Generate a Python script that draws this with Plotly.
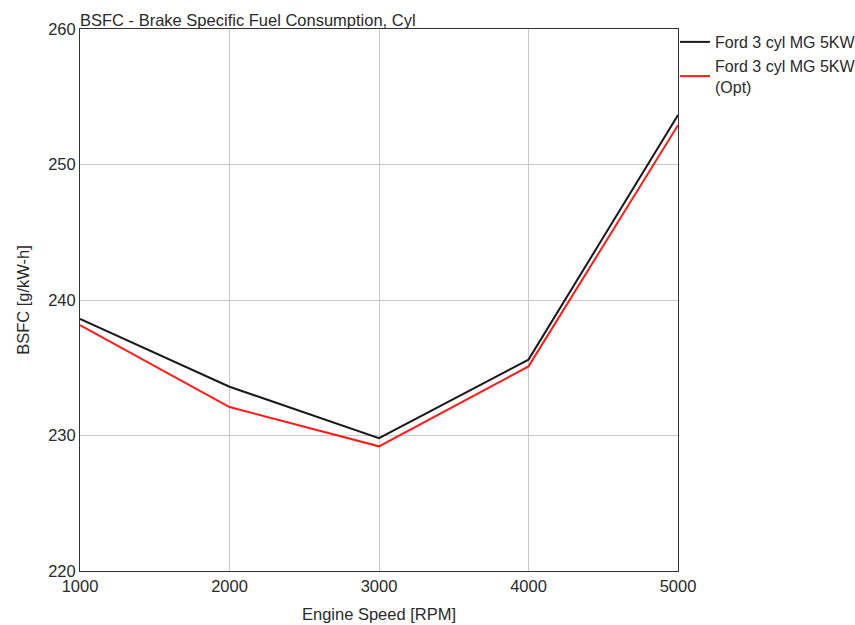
import plotly.graph_objects as go

rpm = [1000, 2000, 3000, 4000, 5000]
bsfc_base = [238.6, 233.6, 229.8, 235.6, 253.65]
bsfc_opt = [238.15, 232.1, 229.2, 235.1, 252.9]
series_names = ["Ford 3 cyl MG 5KW", "Ford 3 cyl MG 5KW<br>(Opt)"]

fig = go.Figure()
fig.add_trace(go.Scatter(x=rpm, y=bsfc_base, mode="lines", name=series_names[0],
                         line=dict(color="#1a1a1a", width=2)))
fig.add_trace(go.Scatter(x=rpm, y=bsfc_opt, mode="lines", name=series_names[1],
                         line=dict(color="#ff1a1a", width=2)))

font = "Liberation Sans, Arial, sans-serif"
L, R, T, B = 80, 177, 29, 54
pw = 855 - L - R
ph = 625 - T - B
fig.update_layout(
    width=855, height=625,
    margin=dict(l=L, r=R, t=T, b=B, autoexpand=False),
    paper_bgcolor="white", plot_bgcolor="white",
    font=dict(family=font, size=16.5, color="#2a2a2a"),
    title=dict(text="BSFC - Brake Specific Fuel Consumption, Cyl", x=L/855, xanchor="left",
               y=1 - 20/625, yanchor="middle", font=dict(family=font, size=16.5, color="#2a2a2a")),
    showlegend=True,
    legend=dict(x=(675 - L)/pw, xanchor="left", y=1 + 4/ph, yanchor="top", bgcolor="rgba(0,0,0,0)",
                font=dict(family=font, size=16, color="#2a2a2a"), tracegroupgap=0,
                itemwidth=30),
    xaxis=dict(range=[1000, 5000], tickvals=[1000, 2000, 3000, 4000, 5000],
               showgrid=True, gridcolor="#c8c8c8", gridwidth=1,
               showline=True, linecolor="#333333", linewidth=1, mirror=True,
               zeroline=False, ticks="", ticklen=0, automargin=False,
               title=dict(text="Engine Speed [RPM]", standoff=14, font=dict(size=16.5))),
    yaxis=dict(range=[220, 260], tickvals=[220, 230, 240, 250, 260],
               showgrid=True, gridcolor="#c8c8c8", gridwidth=1,
               showline=True, linecolor="#333333", linewidth=1, mirror=True,
               zeroline=False, ticks="", ticklen=0, automargin=False,
               title=dict(text="BSFC [g/kW-h]", standoff=14, font=dict(size=16.5))),
)

fig.write_html("out.html")
